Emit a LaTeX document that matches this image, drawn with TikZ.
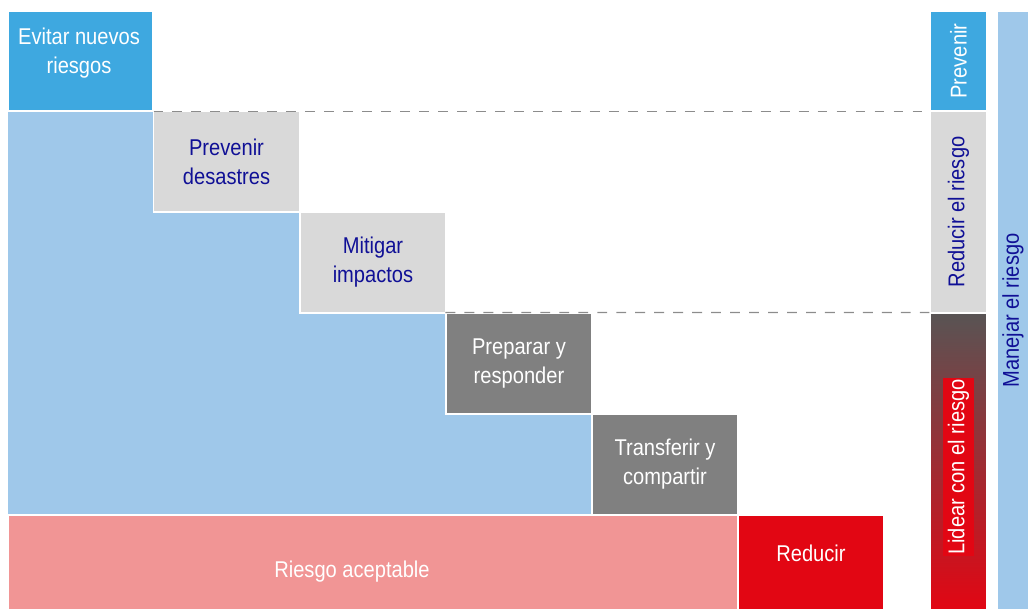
\documentclass[tikz,border=0pt]{standalone}
\usepackage{fontspec}
\setmainfont[FakeStretch=0.88]{Liberation Sans}
\usepackage{graphicx}
\usetikzlibrary{positioning}

\definecolor{evitarblue}{RGB}{62,168,224}
\definecolor{zoneblue}{RGB}{159,200,234}
\definecolor{stagegray}{RGB}{217,217,217}
\definecolor{stagedark}{RGB}{128,128,128}
\definecolor{acepink}{RGB}{241,149,149}
\definecolor{lidearred}{RGB}{226,6,19}
\definecolor{gradtop}{RGB}{88,84,84}
\definecolor{textnavy}{RGB}{16,16,150}
\definecolor{guidegray}{RGB}{140,140,140}

\begin{document}
\begin{tikzpicture}[
        x=0.02cm, y=0.02cm,
        every node/.style={font=\fontsize{13}{16.5}\selectfont},
        stage/.style={rectangle, draw=white, line width=0.6pt, minimum width=2.92cm, minimum height=2.02cm, align=center, inner sep=0pt},
        lightstage/.style={stage, fill=stagegray, text=textnavy},
        darkstage/.style={stage, fill=stagedark, text=white},
        bar/.style={rectangle, draw=white, line width=0.6pt, minimum width=1.14cm, inner sep=0pt},
        guide/.style={draw=guidegray, line width=0.7pt, dash pattern=on 5.6pt off 5.2pt}
        ]

        % Canvas
        \useasboundingbox (0,0) rectangle (1029,610);

        % Light blue staircase zone
        \fill[zoneblue] (8,499) -- (153,499) -- (153,398) -- (300,398) -- (300,297) -- (446,297)
            -- (446,196) -- (592,196) -- (592,95) -- (8,95) -- cycle;

        % Stage boxes
        \node[stage, fill=evitarblue, minimum width=2.9cm, minimum height=2.0cm] (evitar) at (80.5,549) {};
        \node[text=white, align=center] (evitartext) at (79,557) {Evitar nuevos\\riesgos};
        \node[lightstage] (prevenir) at (226.5,448.5) {Prevenir\\desastres};
        \node[lightstage] (mitigar) at (373,347.5) {Mitigar\\impactos};
        \node[darkstage] (preparar) at (519,246.5) {Preparar y\\responder};
        \node[darkstage] (transferir) at (665,145.5) {Transferir y\\compartir};

        % Bottom row
        \node[stage, fill=acepink, minimum width=14.6cm, minimum height=1.9cm] (aceptable) at (373,47.5) {};
        \node[text=white] (aceptabletext) at (352,38) {Riesgo aceptable};
        \node[stage, fill=lidearred, text=white, minimum height=1.9cm] (reducir) at (811,47.5) {\raisebox{10pt}{Reducir}};

        % Right bars
        \node[bar, fill=evitarblue, text=white, minimum height=2.0cm] (prevbar) at (958.5,549) {\rotatebox{90}{Prevenir}};
        \node[bar, fill=stagegray, text=textnavy, minimum height=4.04cm] (reducirbar) at (958.5,398) {\rotatebox{90}{Reducir el riesgo}};
        \node[bar, top color=gradtop, bottom color=lidearred, minimum height=5.94cm] (lidearbar) at (958.5,148.5) {};
        \node[fill=lidearred, text=white, inner xsep=2.5pt, inner ysep=1pt] (lideartext) at (958.5,143) {\rotatebox{90}{Lidear con el riesgo}};
        \node[bar, fill=zoneblue, text=textnavy, minimum width=0.64cm, minimum height=11.98cm] (manejarbar) at (1013,299.5) {\rotatebox{90}{Manejar el riesgo}};

        % Dashed guides
        \draw[guide] (evitar.south east) -- (prevbar.south west);
        \draw[guide] (preparar.north west) -- (lidearbar.north west);

    \end{tikzpicture}
\end{document}
